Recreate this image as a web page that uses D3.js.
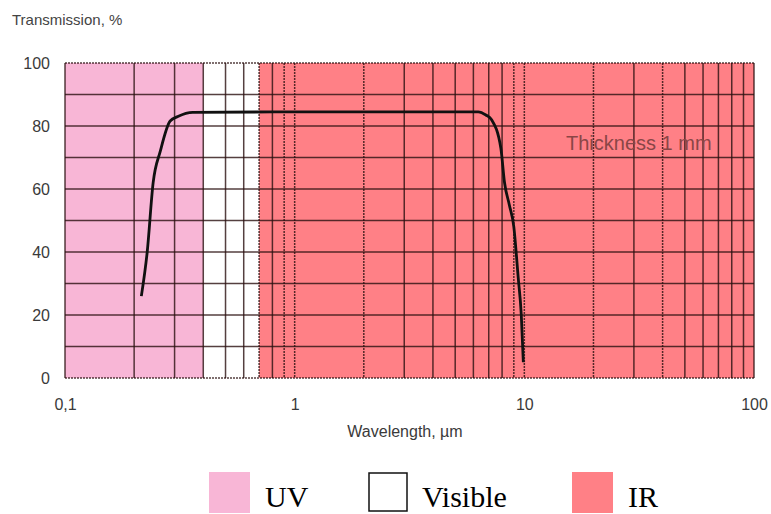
<!DOCTYPE html>
<html>
<head>
<meta charset="utf-8">
<script src="https://cdn.jsdelivr.net/npm/d3@7"></script>
<style>
    body { margin: 0; background: #fff; }
    svg { display: block; }
</style>
</head>
<body>
<svg id="chart" width="771" height="514"></svg>
<script>
// wavelength in µm, transmission in %
const wavelength = [0.215, 0.228, 0.242, 0.26, 0.287, 0.31, 0.36, 1, 6.3, 6.8, 7.2, 7.9, 8.2, 8.6, 9.0, 9.4, 9.7, 9.9]
const transmission = [26, 40, 62, 72, 81.6, 83, 84.3, 84.5, 84.5, 83.5, 82, 73, 62, 55, 48, 32, 20, 5]

const bandNames = ["UV", "Visible", "IR"]
const bandFrom = [0.1, 0.4, 0.7]
const bandTo = [0.4, 0.7, 100]

const xTickValues = [0.1, 1, 10, 100]
const xTickLabels = ["0,1", "1", "10", "100"]
const yTickValues = [0, 20, 40, 60, 80, 100]

const bandColor = d3.scaleOrdinal()
    .domain(bandNames)
    .range(["#f8b6d6", "#ffffff", "#ff8086"])

const sans = "Liberation Sans, Arial, sans-serif"

let svg = d3.select("#chart"),
    margin = {left: 65, right: 17, top: 63, bottom: 136},
    width = 771 - margin.left - margin.right,
    height = 514 - margin.top - margin.bottom

let x = d3.scaleLog().domain([0.1, 100]).range([0, width]),
    y = d3.scaleLinear().domain([0, 100]).range([height, 0])

let g = svg.append("g").attr("transform", `translate(${margin.left},${margin.top})`)

// coloured bands
g.selectAll("rect.band")
    .data(bandNames)
    .join("rect")
    .attr("class", "band")
    .attr("x", (d, i) => x(bandFrom[i]))
    .attr("width", (d, i) => x(bandTo[i]) - x(bandFrom[i]))
    .attr("y", 0)
    .attr("height", height)
    .attr("fill", d => bandColor(d))

// grid
let minorX = []
for (let dec = 0.1; dec < 100; dec *= 10) {
    for (let m = 1; m <= 9; m++) minorX.push(+(dec * m).toPrecision(3))
}
minorX.push(100)

let dotted = [0.7, 0.9, 1, 2, 9, 10, 20, 40]

g.selectAll("line.vgrid")
    .data(minorX)
    .join("line")
    .attr("class", "vgrid")
    .attr("x1", d => x(d)).attr("x2", d => x(d))
    .attr("y1", 0).attr("y2", height)
    .attr("stroke", "#2a1010")
    .attr("stroke-opacity", 0.8)
    .attr("stroke-width", 1.5)
    .attr("stroke-dasharray", d => dotted.includes(d) ? "2,1" : null)

g.selectAll("line.hgrid")
    .data(d3.range(0, 101, 10))
    .join("line")
    .attr("class", "hgrid")
    .attr("x1", 0).attr("x2", width)
    .attr("y1", d => y(d)).attr("y2", d => y(d))
    .attr("stroke", "#2a1010")
    .attr("stroke-opacity", 0.8)
    .attr("stroke-width", 1.5)
    .attr("stroke-dasharray", d => d === 0 || d === 100 ? "2,1" : null)

// curve
let line = d3.line()
    .x(d => x(d[0]))
    .y(d => y(d[1]))
    .curve(d3.curveMonotoneX)

g.append("path")
    .datum(d3.zip(wavelength, transmission))
    .attr("d", line)
    .attr("fill", "none")
    .attr("stroke", "#111")
    .attr("stroke-width", 2.8)

g.append("text")
    .attr("x", x(31.5))
    .attr("y", y(72.5))
    .attr("text-anchor", "middle")
    .attr("font-family", sans)
    .attr("font-size", 20)
    .attr("fill", "#8a4646")
    .text("Thickness 1 mm")

// axes
let xAxis = d3.axisBottom(x)
    .tickValues(xTickValues)
    .tickFormat((d, i) => xTickLabels[i])
    .tickSize(0)
    .tickPadding(21)

let yAxis = d3.axisLeft(y)
    .tickValues(yTickValues)
    .tickSize(0)
    .tickPadding(15)

g.append("g")
    .attr("transform", `translate(0,${height})`)
    .call(xAxis)
    .call(a => a.select(".domain").remove())
    .selectAll("text")
    .attr("font-family", sans)
    .attr("font-size", 16)
    .attr("fill", "#3a3a3a")

g.append("g")
    .call(yAxis)
    .call(a => a.select(".domain").remove())
    .selectAll("text")
    .attr("font-family", sans)
    .attr("font-size", 16)
    .attr("fill", "#3a3a3a")

svg.append("text")
    .attr("x", 12)
    .attr("y", 25)
    .attr("font-family", sans)
    .attr("font-size", 15)
    .attr("fill", "#444")
    .text("Transmission, %")

svg.append("text")
    .attr("x", 405)
    .attr("y", 437)
    .attr("text-anchor", "middle")
    .attr("font-family", sans)
    .attr("font-size", 16)
    .attr("fill", "#3a3a3a")
    .text("Wavelength, µm")

// legend
let legendX = [209, 368, 572],
    legendTextX = [265, 422, 628]

let legend = svg.selectAll("g.legend")
    .data(bandNames)
    .join("g")
    .attr("class", "legend")
    .attr("transform", (d, i) => `translate(${legendX[i]},472)`)

legend.append("rect")
    .attr("x", d => d === "Visible" ? 1 : 0)
    .attr("y", d => d === "Visible" ? 1 : 0)
    .attr("width", d => d === "Visible" ? 38 : 41)
    .attr("height", d => d === "Visible" ? 38 : 41)
    .attr("fill", d => bandColor(d))
    .attr("stroke", d => d === "Visible" ? "#111" : "none")
    .attr("stroke-width", 1.5)

legend.append("text")
    .attr("x", (d, i) => legendTextX[i] - legendX[i])
    .attr("y", 35)
    .attr("font-family", "Liberation Serif, Times New Roman, serif")
    .attr("font-size", 30)
    .attr("fill", "#000")
    .text(d => d)
</script>
</body>
</html>
